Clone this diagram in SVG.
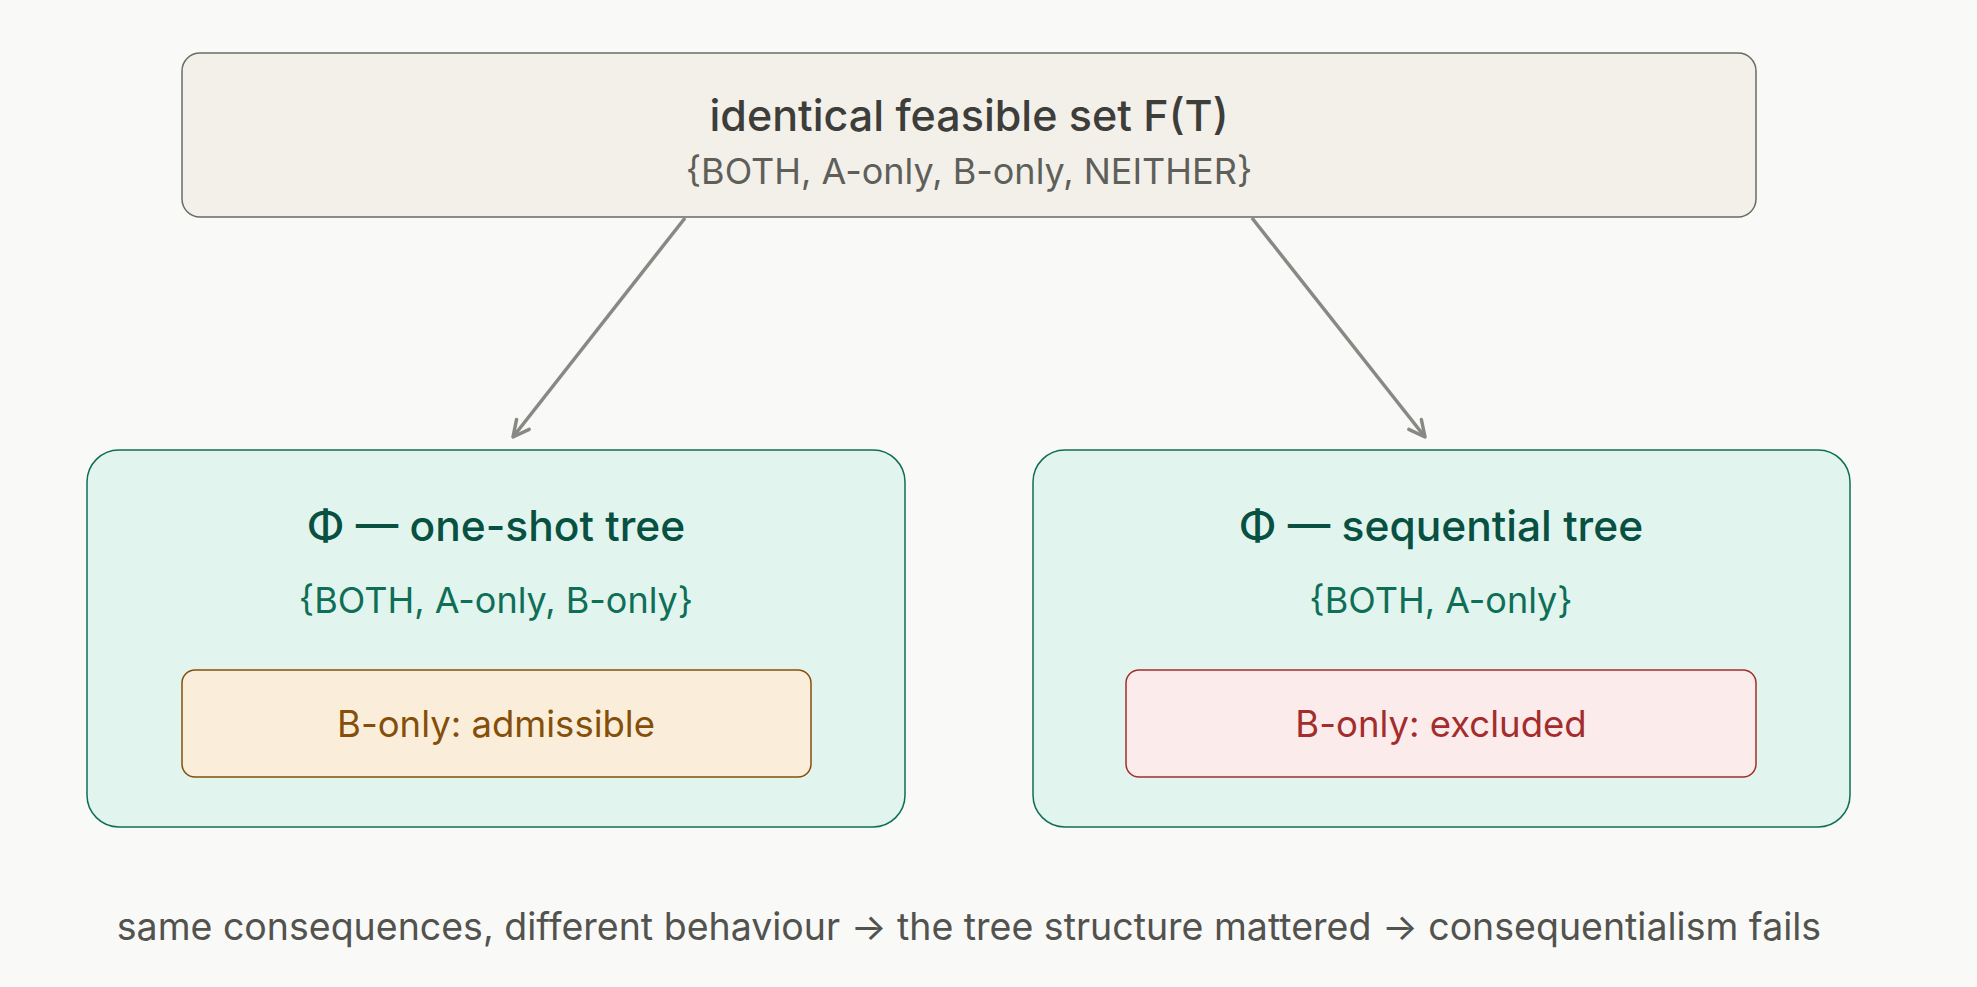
<svg xmlns="http://www.w3.org/2000/svg" width="1977" height="987" viewBox="0 0 1977 987">
<defs>
<marker id="arr" viewBox="0 0 20 20" refX="18" refY="10" markerWidth="20" markerHeight="20" markerUnits="userSpaceOnUse" orient="auto">
<path d="M2,2 L18,10 L2,18" fill="none" stroke="#888884" stroke-width="3.5" stroke-linecap="round" stroke-linejoin="round"/>
</marker>
<style>
text{font-family:Inter,"Open Sans","Liberation Sans",sans-serif;text-anchor:middle}
.edge{stroke:#888884;stroke-width:3.5;fill:none;marker-end:url(#arr)}
.tree{fill:#e1f5ee;stroke:#0f6e56;stroke-width:1.5}
.tt{font-size:42.5px;font-weight:500;fill:#085041}
.ts{font-size:36px;fill:#0f6e56}
</style>
</defs>
<rect width="1977" height="987" fill="#f9f9f7"/>
<g id="feasible">
<rect x="182" y="53" width="1574" height="164" rx="18" fill="#f3f0ea" stroke="#6b6b66" stroke-width="1.5"/>
<text x="969" y="131" font-size="43" font-weight="500" fill="#3d3d3a">identical feasible set F(T)</text>
<text x="969" y="184" font-size="36" fill="#5f5f5a">{BOTH, A-only, B-only, NEITHER}</text>
</g>
<g id="connectors">
<line class="edge" x1="685" y1="218" x2="513" y2="437"/>
<line class="edge" x1="1252" y1="218" x2="1425" y2="437"/>
</g>
<g id="oneshot">
<rect class="tree" x="87" y="450" width="818" height="377" rx="32"/>
<text class="tt" x="496" y="541">Φ — one-shot tree</text>
<text class="ts" x="496" y="613">{BOTH, A-only, B-only}</text>
<g id="admissible">
<rect x="182" y="670" width="629" height="107" rx="13" fill="#faeeda" stroke="#854f0b" stroke-width="1.5"/>
<text x="496" y="737" font-size="36.5" fill="#854f0b">B-only: admissible</text>
</g>
</g>
<g id="sequential">
<rect class="tree" x="1033" y="450" width="817" height="377" rx="32"/>
<text class="tt" x="1441" y="541">Φ — sequential tree</text>
<text class="ts" x="1441" y="613">{BOTH, A-only}</text>
<g id="excluded">
<rect x="1126" y="670" width="630" height="107" rx="13" fill="#fcebeb" stroke="#a32d2d" stroke-width="1.5"/>
<text x="1441" y="737" font-size="36.5" fill="#a32d2d">B-only: excluded</text>
</g>
</g>
<g id="caption">
<text x="969" y="940" font-size="37.5" fill="#52524e">same consequences, different behaviour → the tree structure mattered → consequentialism fails</text>
</g>
</svg>
